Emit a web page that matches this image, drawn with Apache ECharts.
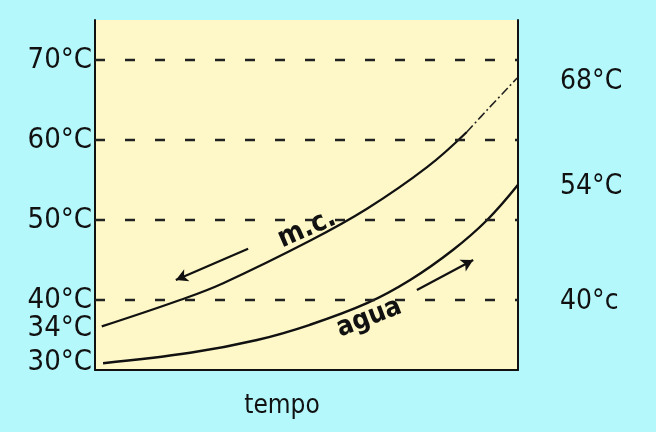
<!DOCTYPE html>
<html>
<head>
<meta charset="utf-8">
<script src="https://cdn.jsdelivr.net/npm/echarts@6/dist/echarts.min.js"></script>
<style>
html,body{margin:0;padding:0;background:#b4f8fc;}
#c{width:656px;height:432px;}
</style>
</head>
<body>
<div id="c"></div>
<script>
// time axis (0..100, arbitrary units)
const mcX   = [1.6, 20.1, 30.3, 50.8, 64.3, 78.5, 87.9];
const mcY   = [36.7, 40.0, 42.1, 47.4, 51.4, 56.6, 61.0];
const mcEndX = [87.9, 92.7, 99.8];
const mcEndY = [61.0, 63.75, 67.75];
const aguaX = [1.9, 22.5, 38.3, 50.8, 64.3, 74.5, 84.6, 92.7, 100];
const aguaY = [32.1, 33.4, 35.0, 36.9, 39.6, 42.5, 46.25, 50.0, 54.4];
const dashedLevels = [70, 60, 50, 40];
// left tick label positions (schematic drawing) and texts
const leftTickPos = [70, 60, 50, 40, 36.5, 32.25];
const leftTickText = ['70°C', '60°C', '50°C', '40°C', '34°C', '30°C'];
const rightTickPos = [67.3, 54.1, 39.8];
const rightTickText = ['68°C', '54°C', '40°c'];
const xName = 'tempo';
const mcLabel = 'm.c.';
const aguaLabel = 'agua';

const zip = (a, b) => a.map((v, i) => [v, b[i]]);
const lookup = (pos, txt) => v => {
  for (let i = 0; i < pos.length; i++) if (Math.abs(pos[i] - v) < 0.01) return txt[i];
  return '';
};
const FONT = '"DejaVu Sans Condensed", "DejaVu Sans"';
const chart = echarts.init(document.getElementById('c'));
const yBase = {
  type: 'value', min: 31.25, max: 75,
  splitLine: {show: false},
  axisTick: {show: false},
  axisLine: {show: true, lineStyle: {color: '#111', width: 2}}
};
chart.setOption({
  backgroundColor: '#b4f8fc',
  animation: false,
  grid: {left: 95, right: 138, top: 20, bottom: 62, show: true, backgroundColor: '#fef8c8', borderWidth: 0},
  xAxis: {
    type: 'value', min: 0, max: 100,
    axisLine: {show: true, onZero: false, lineStyle: {color: '#111', width: 2}},
    axisTick: {show: false}, axisLabel: {show: false}, splitLine: {show: false}
  },
  yAxis: [
    Object.assign({}, yBase, {position: 'left',
      axisLabel: {customValues: leftTickPos, formatter: lookup(leftTickPos, leftTickText),
        margin: 3, color: '#111', fontFamily: FONT, fontSize: 29}}),
    Object.assign({}, yBase, {position: 'right',
      axisLabel: {customValues: rightTickPos, formatter: lookup(rightTickPos, rightTickText),
        margin: 42, color: '#111', fontFamily: FONT, fontSize: 28}})
  ],
  series: [
    {
      type: 'line', data: zip(mcX, mcY), smooth: 0.4, symbol: 'none',
      lineStyle: {color: '#111', width: 2.2},
      markLine: {
        silent: true, symbol: 'none', label: {show: false},
        lineStyle: {color: '#222', width: 2.4, type: [10, 20]},
        data: dashedLevels.map(v => ({yAxis: v}))
      }
    },
    {
      type: 'line', data: zip(mcEndX, mcEndY), smooth: 0.4, symbol: 'none',
      lineStyle: {color: '#222', width: 1.6, type: [9, 3, 2, 3]}
    },
    {
      type: 'line', data: zip(aguaX, aguaY), smooth: 0.4, symbol: 'none',
      lineStyle: {color: '#111', width: 2.4},
      markLine: {
        silent: true, label: {show: false}, symbolSize: [10, 12],
        lineStyle: {color: '#111', width: 2.2, type: 'solid'},
        data: [
          [{coord: [36.2, 46.4], symbol: 'none'}, {coord: [19.1, 42.5], symbol: 'arrow'}],
          [{coord: [76.1, 41.25], symbol: 'none'}, {coord: [89.4, 45.0], symbol: 'arrow'}]
        ]
      }
    }
  ]
});
const p1 = chart.convertToPixel({xAxisIndex: 0, yAxisIndex: 0}, [50.1, 48.9]);
const p2 = chart.convertToPixel({xAxisIndex: 0, yAxisIndex: 0}, [64.8, 37.75]);
const px = chart.convertToPixel({xAxisIndex: 0, yAxisIndex: 0}, [44.2, 31.25]);
chart.setOption({
  graphic: [
    {type: 'text', x: p1[0], y: p1[1], rotation: 23.6 * Math.PI / 180,
     style: {text: mcLabel, fill: '#111', font: 'bold 28px ' + FONT, align: 'center', verticalAlign: 'middle'}},
    {type: 'text', x: p2[0], y: p2[1], rotation: 21 * Math.PI / 180,
     style: {text: aguaLabel, fill: '#111', font: 'bold 27px ' + FONT, align: 'center', verticalAlign: 'middle'}},
    {type: 'text', x: px[0], y: px[1] + 36,
     style: {text: xName, fill: '#111', font: '26px ' + FONT, align: 'center', verticalAlign: 'middle'}}
  ]
});
</script>
</body>
</html>
